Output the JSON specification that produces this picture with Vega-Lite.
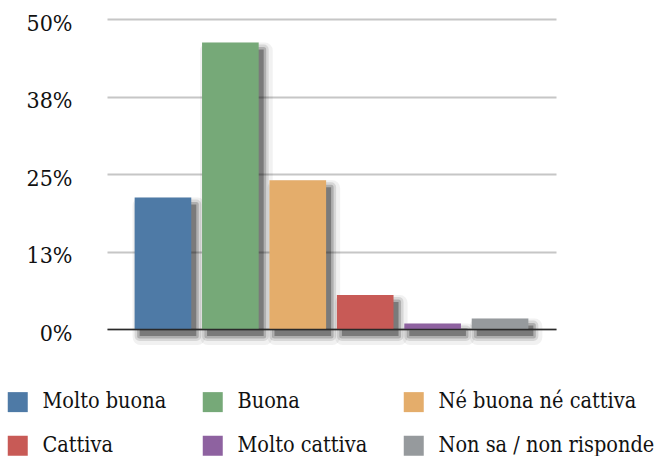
{
  "$schema": "https://vega.github.io/schema/vega-lite/v6.json",
  "width": 449,
  "height": 310,
  "autosize": {"type": "none"},
  "padding": {"left": 107, "top": 19, "right": 102, "bottom": 127},
  "background": "white",
  "config": {"view": {"stroke": null}},
  "data": {
    "values": [
      {"risposta": "Molto buona", "quota": 0.212},
      {"risposta": "Buona", "quota": 0.462},
      {"risposta": "Né buona né cattiva", "quota": 0.240},
      {"risposta": "Cattiva", "quota": 0.055},
      {"risposta": "Molto cattiva", "quota": 0.009},
      {"risposta": "Non sa / non risponde", "quota": 0.017}
    ]
  },
  "encoding": {
    "x": {
      "field": "risposta",
      "type": "nominal",
      "sort": null,
      "scale": {"paddingInner": 0.16, "paddingOuter": 0.41},
      "axis": {
        "title": null,
        "labels": false,
        "ticks": false,
        "domainColor": "#2a2a2a",
        "domainWidth": 1.5,
        "zindex": 1
      }
    },
    "y": {
      "field": "quota",
      "type": "quantitative",
      "scale": {"domain": [0, 0.5], "nice": false},
      "axis": {
        "title": null,
        "values": [0, 0.125, 0.25, 0.375, 0.5],
        "format": ".0%",
        "labelFont": "DejaVu Serif Condensed",
        "labelFontSize": 23,
        "labelColor": "#111111",
        "labelPadding": 35,
        "labelOffset": 4,
        "ticks": false,
        "domain": false,
        "grid": true,
        "gridColor": "#c6c6c6",
        "gridWidth": 2
      }
    }
  },
  "layer": [
    {
      "mark": {"type": "bar", "fill": "#000", "stroke": "#000", "strokeWidth": 16, "strokeJoin": "round", "opacity": 0.05, "xOffset": 6, "yOffset": 8, "y2Offset": 8}
    },
    {
      "mark": {"type": "bar", "fill": "#000", "stroke": "#000", "strokeWidth": 10, "strokeJoin": "round", "opacity": 0.1, "xOffset": 5, "yOffset": 7, "y2Offset": 7}
    },
    {
      "mark": {"type": "bar", "fill": "#000", "stroke": "#000", "strokeWidth": 5, "strokeJoin": "round", "opacity": 0.18, "xOffset": 5, "yOffset": 7, "y2Offset": 7}
    },
    {
      "mark": {"type": "bar", "fill": "#000", "stroke": "#000", "strokeWidth": 0, "opacity": 0.3, "xOffset": 5, "yOffset": 7, "y2Offset": 7}
    },
    {
      "mark": {"type": "bar"},
      "encoding": {
        "color": {
          "field": "risposta",
          "type": "nominal",
          "sort": null,
          "scale": {
            "domain": ["Molto buona", "Buona", "Né buona né cattiva", "Cattiva", "Molto cattiva", "Non sa / non risponde"],
            "range": ["#4e7aa6", "#76a978", "#e4ad6b", "#c85a56", "#8e62a0", "#969a9d"]
          },
          "legend": {
            "title": null,
            "orient": "none",
            "legendX": -100,
            "legendY": 372,
            "direction": "horizontal",
            "columns": 3,
            "symbolType": "square",
            "symbolSize": 400,
            "symbolStrokeWidth": 0,
            "labelFont": "DejaVu Serif Condensed",
            "labelFontSize": 21.5,
            "labelColor": "#111111",
            "labelOffset": 14,
            "labelLimit": 400,
            "columnPadding": 35,
            "rowPadding": 21
          }
        }
      }
    }
  ]
}
